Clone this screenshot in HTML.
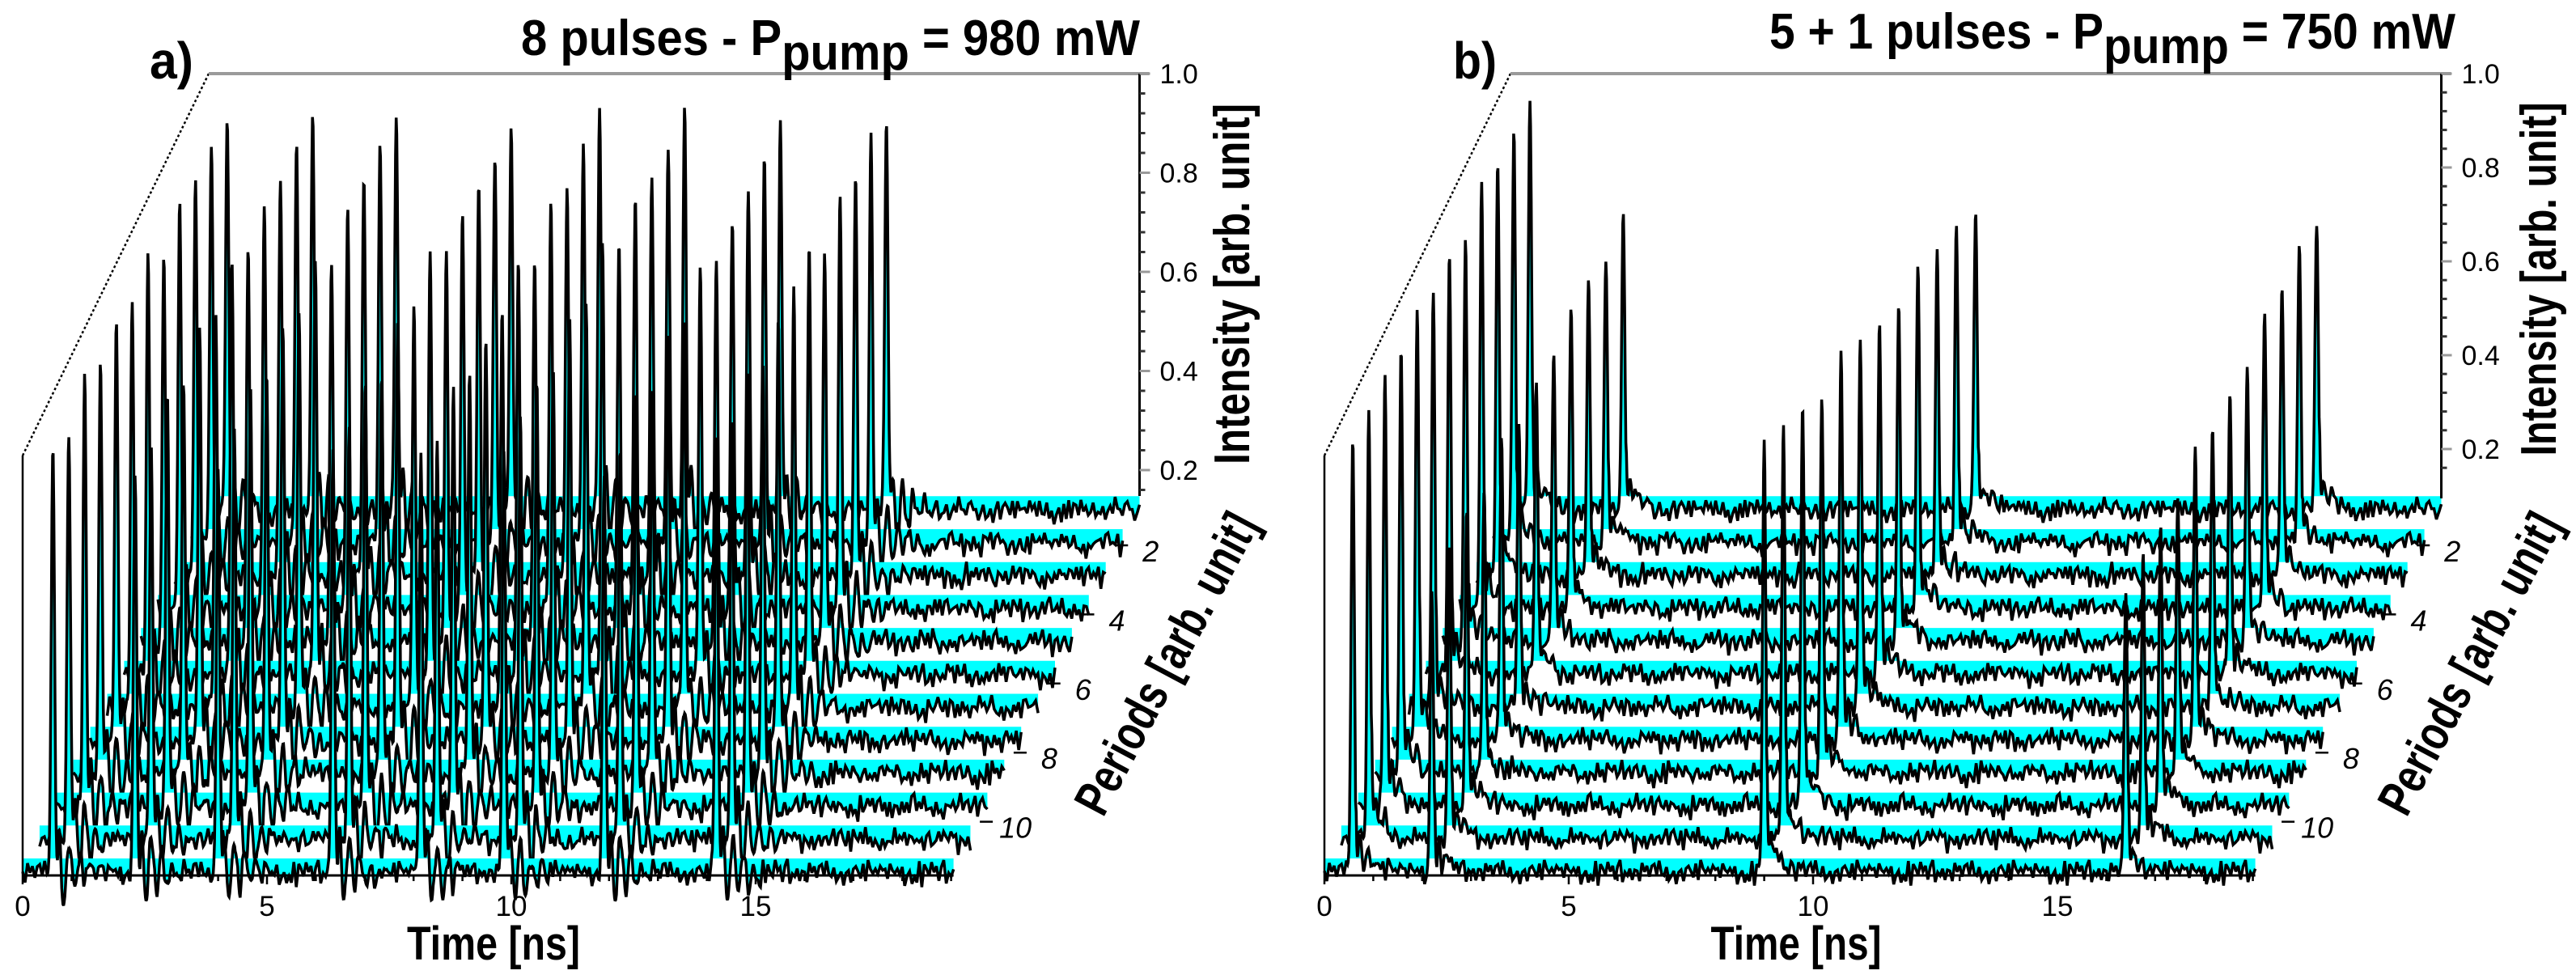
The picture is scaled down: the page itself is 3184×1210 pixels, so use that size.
<!DOCTYPE html>
<html><head><meta charset="utf-8"><style>
html,body{margin:0;padding:0;background:#fff;}
svg{display:block;}
text{font-family:"Liberation Sans",Arial,sans-serif;}
</style></head><body>
<svg id="chart" xmlns="http://www.w3.org/2000/svg" width="3184" height="1210" viewBox="0 0 3184 1210">
<rect x="0" y="0" width="3184" height="1210" fill="#fff"/>
<g id="panelA"></g>
<g id="panelB"></g>
</svg>
<script>
// ---- data: panel a (8 pulses) ----
const aPulseFront = [0.62, 2.3, 4.0, 6.35, 8.15, 9.85, 11.9, 14.2];
const aPulseBack  = [0.38, 2.13, 3.84, 6.19, 8.0, 9.74, 11.7, 13.87];
const aHeightFront = [0.86, 0.82, 0.84, 0.85, 0.83, 0.86, 0.82, 0.88];
const aHeightBack  = [0.80, 0.81, 0.80, 0.79, 0.80, 0.81, 0.78, 0.80];
const aRowGain = [1.0, 0.98, 1.02, 0.97, 1.01, 0.99, 1.03, 0.96, 1.0, 0.98, 1.01, 0.99];
// ---- data: panel b (5 + 1 pulses) ----
const bPulseFront = [0.58, 2.2, 9.0, 16.4];
const bPulseBack  = [0.40, 2.31, 9.52, 16.5];
const bHeightFront = [0.92, 0.62, 0.90, 0.60];
const bHeightBack  = [0.88, 0.63, 0.65, 0.62];
const bRowGain = [1.0, 0.99, 1.01, 0.98, 1.02, 0.99, 1.0, 0.97, 1.01, 0.99, 1.0, 1.0];
// shared noise texture
const noiseVals = [0.3,-0.5,0.8,-0.2,0.1,-0.9,0.6,0.4,-0.3,0.7,-0.6,0.2,0.9,-0.4,-0.1,0.5,-0.8,0.3,0.6,-0.7,0.1,0.8,-0.2,-0.5,0.4,-0.9,0.7,0.2,-0.3,0.5,-0.6,0.9,-0.1,0.3,-0.8,0.6,0.0,-0.4,0.7,-0.2,0.5,-0.7,0.2,0.8,-0.5,0.1,-0.3,0.6,-0.9,0.4,0.2,-0.6,0.7,-0.1,0.3,-0.8,0.5,0.9,-0.4,0.1,-0.2,0.6,-0.7,0.4];
// tick labels
const xTickLabels = ["0","5","10","15"];
const xTickValues = [0,5,10,15];
const yTickValues = [0.2,0.4,0.6,0.8,1.0];
const yTickLabels = ["0.2","0.4","0.6","0.8","1.0"];
const periodTickValues = [2,4,6,8,10];
const periodTickLabels = ["2","4","6","8","10"];

const NS = "http://www.w3.org/2000/svg";
const NROWS = 12;
function mk(tag, attrs, parent){ const e=document.createElementNS(NS,tag); for(const k in attrs) e.setAttribute(k,attrs[k]); parent.appendChild(e); return e; }

function nv(i){ const n = noiseVals.length; return noiseVals[((i%n)+n)%n]; }
function noiseAt(t, r){
  const f = t/0.05;
  const i = Math.floor(f), fr = f - i;
  const s = k => 0.6*nv(k + r*13) + 0.4*nv(k*7 + r*5 + 3);
  const a = s(i), b = s(i+1);
  return a + (b-a)*fr;
}
function shape(d, p){
  if (d < -0.3 || d > 2.5) return 0;
  let s = Math.exp(-d*d/(2*0.033*0.033));
  s -= p.dip*Math.exp(-(d-0.09)*(d-0.09)/(2*0.025*0.025));
  if (d > 0.06){
    const e = d-0.06;
    s += p.ring*Math.exp(-e/0.35)*Math.sin(2*Math.PI*e/0.22);
    s += p.tail*Math.exp(-e/0.2);
  }
  return s;
}

function drawPanel(g, cfg){
  const ox = cfg.ox;
  const X0 = ox + 28, PXNS = 60.4, DX = 20.9, YZ0 = 1061, DYR = 40.7, TMAX = 19.05;
  const axisX = X0 + TMAX*PXNS + 11*DX;
  const yV = v => cfg.y0 - v*cfg.unit;
  const traces = mk('g', {}, g);
  
  
  for (let r = NROWS-1; r >= 0; r--){
    const f = r/(NROWS-1);
    const yz = YZ0 - r*DYR;
    const times = cfg.front.map((tf,k)=> tf + (cfg.back[k]-tf)*f);
    const hts = cfg.hFront.map((hf,k)=> (hf + (cfg.hBack[k]-hf)*f) * cfg.gain[r]);
    const pts = [];
    for (let t = 0; t <= TMAX + 1e-9; t += 0.0125){
      let v = -0.03 + 0.034*noiseAt(t, r);
      for (let k = 0; k < times.length; k++) v += hts[k]*shape(t - times[k], cfg.p);
      pts.push([X0 + t*PXNS + r*DX, yz - v*cfg.unit]);
    }
    const ptsStr = pts.map(q=>q[0].toFixed(1)+','+q[1].toFixed(1)).join(' ');
    const xs = pts[0][0], xe = pts[pts.length-1][0];
    const occ = mk('polygon', {points: ptsStr+' '+xe.toFixed(1)+',1210 '+xs.toFixed(1)+',1210', fill:'#fff', stroke:'none'}, traces);
    
    
    const fill = mk('polygon', {points: ptsStr+' '+xe.toFixed(1)+','+yz+' '+xs.toFixed(1)+','+yz, fill:'#00ffff', stroke:'none'}, traces);
    
    
    const line = mk('polyline', {points: ptsStr, fill:'none', stroke:'#000', 'stroke-width':3.5, 'stroke-linejoin':'miter', 'stroke-miterlimit':3}, traces);
    
    
  }
  const frame = mk('g', {}, g);
  
  
  const lw = mk('line', {x1:X0, y1:1082, x2:X0, y2:563, stroke:'#000', 'stroke-width':2.5}, frame);
  
  
  const dg = mk('line', {x1:X0, y1:563, x2:X0+230, y2:91, stroke:'#000', 'stroke-width':2.5, 'stroke-dasharray':'3,3'}, frame);
  
  
  const tl = mk('line', {x1:X0+230, y1:91, x2:axisX+12, y2:91, stroke:'#9a9a9a', 'stroke-width':4}, frame);
  
  
  const xa = mk('g', {}, g);
  
  
  const xl = mk('line', {x1:X0, y1:1082, x2:X0+TMAX*PXNS, y2:1082, stroke:'#000', 'stroke-width':3}, xa);
  
  
  for (let t = 0; t <= 19; t++){
    const x = X0 + t*PXNS;
    const tk = mk('line', {x1:x, y1:1082, x2:x, y2:1082+(t%5===0?11:7), stroke:'#000', 'stroke-width':2.5}, xa);
    
    
  }
  xTickValues.forEach((tv,i)=>{
    const tx = mk('text', {x:X0+tv*PXNS, y:1132, 'font-size':35, 'text-anchor':'middle', fill:'#000'}, xa);
    tx.textContent = xTickLabels[i];
    
    
  });
  const xt = mk('text', {x:cfg.timeX, y:1186, 'font-size':58, 'font-weight':'bold', 'text-anchor':'middle', textLength:cfg.timeW, lengthAdjust:'spacingAndGlyphs'}, xa);
  xt.textContent = 'Time [ns]';
  
  
  const ya = mk('g', {}, g);
  
  
  const yl = mk('line', {x1:axisX, y1:cfg.backFloor, x2:axisX, y2:91, stroke:'#000', 'stroke-width':3}, ya);
  
  
  for (let m = 4; m <= 25; m++){
    const v = m*0.04; const y = yV(v);
    if (y > cfg.backFloor) continue;
    const major = (m%5===0);
    const tk = mk('line', {x1:axisX, y1:y, x2:axisX+(major?13:7), y2:y, stroke: major?'#999':'#333', 'stroke-width':3}, ya);
    
    
  }
  yTickValues.forEach((v,i)=>{
    const tx = mk('text', {x:axisX+25, y:yV(v)+12, 'font-size':34, fill:'#000'}, ya);
    tx.textContent = yTickLabels[i];
    
    
  });
  const it = mk('text', {x:0, y:0, 'font-size':62, 'font-weight':'bold', 'text-anchor':'middle', textLength:cfg.intLen, lengthAdjust:'spacingAndGlyphs', transform:'translate('+cfg.intX+','+cfg.intY+') rotate(-90)'}, ya);
  it.textContent = 'Intensity [arb. unit]';
  
  
  const pa = mk('g', {}, g);
  
  
  periodTickValues.forEach((p,i)=>{
    const y = 674 + (p-2)*42.7;
    const x = X0 + TMAX*PXNS + (1082 - y)*(230/470);
    const tk = mk('line', {x1:x, y1:y, x2:x+16, y2:y, stroke:'#000', 'stroke-width':2.5}, pa);
    
    
    const tx = mk('text', {x:x+44, y:y+20, 'font-size':36, 'font-style':'italic', 'text-anchor':'middle'}, pa);
    tx.textContent = periodTickLabels[i];
    
    
  });
  const pt = mk('text', {x:0, y:0, 'font-size':62, 'font-weight':'bold', 'text-anchor':'middle', textLength:411, lengthAdjust:'spacingAndGlyphs', transform:'translate('+cfg.perX+',830) rotate(-62)'}, pa);
  pt.textContent = 'Periods [arb. unit]';
  
  
  const pl = mk('text', {x:cfg.labX, y:97, 'font-size':64, 'font-weight':'bold', textLength:54, lengthAdjust:'spacingAndGlyphs'}, g);
  pl.textContent = cfg.label;
  
  
  const ti = mk('text', {x:cfg.titleX, y:cfg.titleY, 'font-size':62, 'font-weight':'bold', textLength:cfg.titleW, lengthAdjust:'spacingAndGlyphs'}, g);
  
  
  const s1 = mk('tspan', {}, ti); s1.textContent = cfg.t1;
  const s2 = mk('tspan', {dy:18}, ti); s2.textContent = 'pump';
  const s3 = mk('tspan', {dy:-18}, ti); s3.textContent = cfg.t2;
}

drawPanel(document.getElementById('panelA'), {
  ox:0, front:aPulseFront, back:aPulseBack, hFront:aHeightFront, hBack:aHeightBack, gain:aRowGain,
  p:{dip:0.12, ring:0.14, tail:0.04}, unit:612.5, y0:703.5, backFloor:613,
  timeX:610, timeW:214, intX:1544, intY:351, intLen:446, perX:1460,
  labX:185, label:'a)', titleX:644, titleY:68, titleW:765, t1:'8 pulses - P', t2:' = 980 mW'
});
drawPanel(document.getElementById('panelB'), {
  ox:1609, front:bPulseFront, back:bPulseBack, hFront:bHeightFront, hBack:bHeightBack, gain:bRowGain,
  p:{dip:0.1, ring:0.04, tail:0.12}, unit:580, y0:671, backFloor:616,
  timeX:2220, timeW:211, intX:3159, intY:345, intLen:437, perX:3071,
  labX:1796, label:'b)', titleX:2187, titleY:60, titleW:848, t1:'5 + 1 pulses - P', t2:' = 750 mW'
});
</script>
</body></html>
